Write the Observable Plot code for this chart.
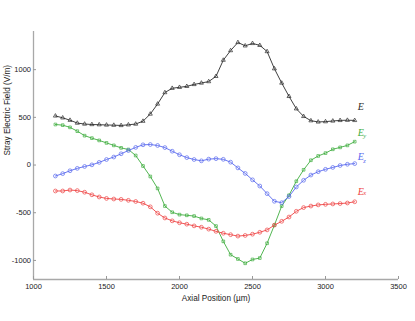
<!DOCTYPE html>
<html>
<head>
<meta charset="utf-8">
<script src="https://cdn.jsdelivr.net/npm/d3@7"></script>
<script src="https://cdn.jsdelivr.net/npm/@observablehq/plot@0.6"></script>
<style>
  html, body { margin: 0; padding: 0; background: #fff; }
</style>
</head>
<body>
<div id="chart"></div>
<script>
// Axial positions (µm)
const positions = [1150,1200,1250,1300,1350,1400,1450,1500,1550,1600,
  1650,1700,1750,1800,1850,1900,1950,2000,2050,2100,
  2150,2200,2250,2300,2350,2400,2450,2500,2550,2600,
  2650,2700,2750,2800,2850,2900,2950,3000,3050,3100,
  3150,3200];

// Stray electric field (V/m)
const E  = [515,495,470,440,430,425,423,420,418,415,
  422,430,460,535,640,760,805,815,825,845,
  860,875,930,1100,1200,1285,1250,1275,1255,1190,
  1010,860,720,590,510,465,452,455,462,468,
  470,468];
const Ey = [425,418,395,355,308,282,258,232,206,180,
  163,100,-10,-120,-245,-430,-495,-520,-527,-535,
  -560,-575,-640,-800,-940,-985,-1030,-990,-975,-820,
  -630,-430,-317,-170,-50,50,95,125,165,185,
  206,245];
const Ez = [-115,-90,-60,-35,-15,2,28,58,84,118,
  152,185,212,215,205,183,145,108,78,58,
  44,62,67,60,30,-30,-88,-155,-220,-300,
  -380,-395,-330,-230,-160,-105,-70,-45,-25,-5,
  8,15];
const Ex = [-272,-272,-262,-268,-285,-312,-335,-350,-356,-360,
  -370,-382,-400,-438,-505,-555,-585,-605,-620,-638,
  -652,-672,-695,-715,-730,-745,-738,-725,-705,-680,
  -630,-590,-545,-485,-446,-430,-418,-412,-408,-404,
  -398,-385];

const xDomain = [1000, 3500];
const yDomain = [-1200, 1400];
const xTicks = [1000, 1500, 2000, 2500, 3000, 3500];
const yTicks = [-1000, -500, 0, 500, 1000];

const seriesNames = ["E", "Ey", "Ez", "Ex"];
const seriesSub = ["", "y", "z", "x"];
const seriesColors = ["#2b2b2b", "#3fae3f", "#5868ee", "#ee4444"];
const seriesSymbols = ["triangle", "square", "circle", "circle"];
const seriesValues = [E, Ey, Ez, Ex];

const idx = positions.map((_, i) => i);
const last = positions.length - 1;

// label offsets in px relative to each series' last point
const labelDy = [-14, -9, -7, -10];
const subDy = [0, -3, -2, -4.5];

const fmt = d => String(d);
const noText = () => "";

const marks = [
  Plot.ruleX([xDomain[0]], {stroke: "#a8a8a8", strokeWidth: 1.3}),
  Plot.ruleY([yDomain[0]], {stroke: "#a8a8a8", strokeWidth: 1.3}),
  // tick labels
  Plot.axisX(xTicks, {tickSize: 0, tickPadding: 4, tickFormat: fmt, fill: "#222", fontSize: 7.5, label: null}),
  Plot.axisY(yTicks, {tickSize: 0, tickPadding: 2.5, tickFormat: fmt, fill: "#222", fontSize: 7.5, label: null}),
  // inward tick marks
  Plot.axisX(xTicks, {tickSize: -3, tickFormat: noText, stroke: "#999", label: null}),
  Plot.axisY(yTicks, {tickSize: -3, tickFormat: noText, stroke: "#999", label: null}),
  Plot.text(["Axial Position (\u00b5m)"], {frameAnchor: "bottom", dy: 21, fontSize: 8.2, fill: "#222"}),
  Plot.text(["Stray Electric Field (V/m)"], {frameAnchor: "left", dx: -26.5, rotate: -90, fontSize: 8.2, fill: "#222"})
];

seriesValues.forEach((vals, s) => {
  marks.push(Plot.line(idx, {x: i => positions[i], y: i => vals[i], stroke: seriesColors[s], strokeWidth: 0.9}));
  marks.push(Plot.dot(idx, {x: i => positions[i], y: i => vals[i], stroke: seriesColors[s], symbol: seriesSymbols[s], r: seriesSymbols[s] === "circle" ? 1.9 : 1.5, strokeWidth: 0.7, fill: "none"}));
  marks.push(Plot.text([last], {x: i => positions[i], y: i => vals[i], text: () => "E", dx: 3, dy: labelDy[s], textAnchor: "start", fontStyle: "italic", fontFamily: "Liberation Serif", fontSize: 10, fill: seriesColors[s]}));
  if (seriesSub[s]) {
    marks.push(Plot.text([last], {x: i => positions[i], y: i => vals[i], text: () => seriesSub[s], dx: 8.5, dy: labelDy[s] + 6 + subDy[s], textAnchor: "start", fontStyle: "italic", fontFamily: "Liberation Serif", fontSize: 6.5, fill: seriesColors[s]}));
  }
});

const chart = Plot.plot({
  width: 415,
  height: 321,
  marginLeft: 33,
  marginRight: 17,
  marginTop: 31,
  marginBottom: 42,
  style: {fontFamily: "'Liberation Sans', Arial, sans-serif", background: "#fff"},
  x: {domain: xDomain},
  y: {domain: yDomain},
  marks
});
document.getElementById("chart").appendChild(chart);
</script>
</body>
</html>
